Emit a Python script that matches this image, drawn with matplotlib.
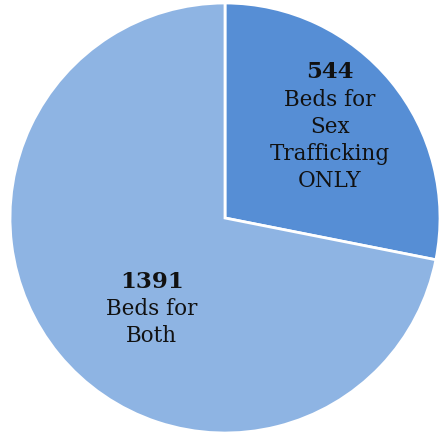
import matplotlib
matplotlib.use("Agg")
import matplotlib.pyplot as plt

values = [544, 1391]
numbers = ["544", "1391"]
descs = ["Beds for\nSex\nTrafficking\nONLY", "Beds for\nBoth"]
colors = ["#568ED5", "#8EB4E3"]

fig = plt.figure(figsize=(4.42, 4.37), dpi=100)
ax = fig.add_axes([0, 0, 1, 1])
ax.pie(values, colors=colors, startangle=90, counterclock=False,
       wedgeprops=dict(edgecolor="white", linewidth=2))
ax.set_aspect("auto")
ax.set_xlim(-225 / 215, 217 / 215)
ax.set_ylim(-219 / 215, 218 / 215)
ax.axis("off")

font = "DejaVu Serif"
fs = 15.5
# label anchor positions (data coords): (x, number center y, description top y)
pos = [(0.488, 0.680, 0.598), (-0.34, -0.296, -0.372)]
for (x, yn, yd), n, d in zip(pos, numbers, descs):
    ax.text(x, yn, n, ha="center", va="center", fontsize=16.5, fontweight="bold",
            family=font, color="#111111")
    ax.text(x, yd, d, ha="center", va="top", fontsize=fs, family=font,
            color="#111111", linespacing=1.28)

fig.savefig("out.png", dpi=100)
